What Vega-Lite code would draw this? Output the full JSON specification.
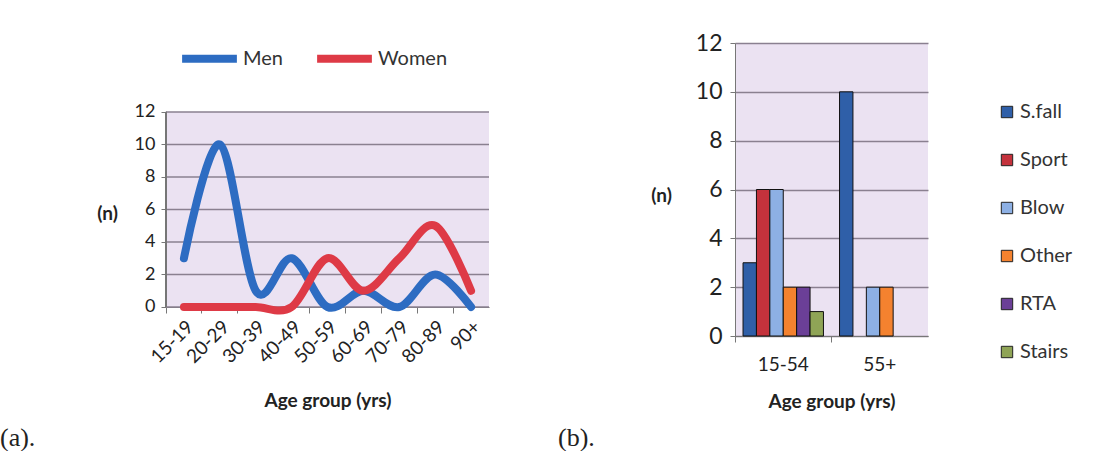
{
  "$schema": "https://vega.github.io/schema/vega-lite/v6.json",
  "background": "white",
  "padding": {"top": 27, "left": 0, "right": 0, "bottom": 0},
  "spacing": 68,
  "resolve": {"scale": {"color": "independent", "y": "independent"}, "legend": {"color": "independent"}},
  "config": {
    "font": "Lato",
    "view": {"fill": "#ebe2f2", "stroke": null},
    "axis": {
      "labelFont": "Lato", "titleFont": "Lato",
      "labelColor": "#222", "titleColor": "#222",
      "domainColor": "#777", "tickColor": "#777",
      "gridColor": "#8a8090", "gridWidth": 1.5
    },
    "title": {"font": "Liberation Serif", "fontSize": 26, "fontWeight": "normal", "color": "#222"}
  },
  "hconcat": [
    {
      "width": 323,
      "height": 293,
      "view": {"fill": null, "stroke": null},
      "title": {"text": "(a).", "orient": "bottom", "anchor": "start", "frame": "group", "dx": -166, "offset": 14},
      "data": {"values": [
        {"age": "15-19", "sex": "Men", "n": 3}, {"age": "20-29", "sex": "Men", "n": 10},
        {"age": "30-39", "sex": "Men", "n": 1}, {"age": "40-49", "sex": "Men", "n": 3},
        {"age": "50-59", "sex": "Men", "n": 0}, {"age": "60-69", "sex": "Men", "n": 1},
        {"age": "70-79", "sex": "Men", "n": 0}, {"age": "80-89", "sex": "Men", "n": 2},
        {"age": "90+", "sex": "Men", "n": 0},
        {"age": "15-19", "sex": "Women", "n": 0}, {"age": "20-29", "sex": "Women", "n": 0},
        {"age": "30-39", "sex": "Women", "n": 0}, {"age": "40-49", "sex": "Women", "n": 0},
        {"age": "50-59", "sex": "Women", "n": 3}, {"age": "60-69", "sex": "Women", "n": 1},
        {"age": "70-79", "sex": "Women", "n": 3}, {"age": "80-89", "sex": "Women", "n": 5},
        {"age": "90+", "sex": "Women", "n": 1}
      ]},
      "layer": [
        {
          "mark": {"type": "rect", "color": "#ebe2f2"},
          "encoding": {
            "x": {"value": 0},
            "x2": {"value": "width"},
            "y": {"datum": 0, "type": "quantitative", "scale": {"domain": [-1.785, 16.246], "nice": false, "zero": false}},
            "y2": {"datum": 12}
          }
        },
        {
          "data": {"values": [{"g": 0}, {"g": 2}, {"g": 4}, {"g": 6}, {"g": 8}, {"g": 10}, {"g": 12}]},
          "mark": {"type": "rule", "color": "#8a8090", "strokeWidth": 1.5},
          "encoding": {
            "y": {"field": "g", "type": "quantitative", "scale": {"domain": [-1.785, 16.246], "nice": false, "zero": false}}
          }
        },
        {
          "mark": {"type": "rule", "color": "#777", "strokeWidth": 1},
          "encoding": {
            "x": {"value": 0},
            "y": {"datum": 0, "type": "quantitative", "scale": {"domain": [-1.785, 16.246], "nice": false, "zero": false}},
            "y2": {"datum": 12}
          }
        },
        {
          "mark": {"type": "line", "interpolate": "cardinal", "strokeWidth": 8, "strokeCap": "round", "strokeJoin": "round"},
          "encoding": {
            "x": {
              "field": "age", "type": "ordinal",
              "sort": ["15-19","20-29","30-39","40-49","50-59","60-69","70-79","80-89","90+"],
              "scale": {"type": "band", "paddingInner": 0, "paddingOuter": 0},
              "axis": {"orient": "bottom", "offset": -29, "ticks": false, "domain": false, "labelAngle": -45, "labelFontSize": 19, "labelPadding": 10,
                       "title": "Age group (yrs)", "titleFontSize": 19, "titleFontWeight": "bold", "titlePadding": 25}
            },
            "y": {
              "field": "n", "type": "quantitative",
              "scale": {"domain": [-1.785, 16.246], "nice": false, "zero": false},
              "axis": {"values": [0,2,4,6,8,10,12], "grid": false, "domain": false, "labelFontSize": 18, "tickSize": 5, "labelPadding": 6,
                       "title": "(n)", "titleAngle": 0, "titleFontSize": 19, "titleFontWeight": "bold",
                       "titleAlign": "center", "titleBaseline": "middle", "titleX": -59, "titleY": 170}
            },
            "color": {
              "field": "sex", "type": "nominal",
              "scale": {"domain": ["Men", "Women"], "range": ["#2d6cc2", "#de3a46"]},
              "legend": {"title": null, "orient": "none", "direction": "horizontal", "legendX": 12, "legendY": -16,
                         "symbolType": "stroke", "symbolSize": 3000, "symbolStrokeWidth": 8,
                         "labelFontSize": 20, "labelColor": "#333", "columnPadding": 18, "labelOffset": 2}
            }
          }
        },
        {
          "mark": {"type": "point", "opacity": 0},
          "encoding": {
            "x": {
              "field": "age", "type": "ordinal",
              "sort": ["15-19","20-29","30-39","40-49","50-59","60-69","70-79","80-89","90+"],
              "axis": {"orient": "bottom", "offset": -29, "labels": false, "title": null, "ticks": true, "tickSize": 6, "bandPosition": 0, "domain": true, "grid": false}
            }
          }
        }
      ],
      "resolve": {"axis": {"x": "independent"}}
    },
    {
      "width": 193,
      "height": 293,
      "title": {"text": "(b).", "orient": "bottom", "anchor": "start", "frame": "group", "dx": -177, "offset": 14},
      "data": {"values": [
        {"age": "15-54", "cause": "S.fall", "n": 3}, {"age": "15-54", "cause": "Sport", "n": 6},
        {"age": "15-54", "cause": "Blow", "n": 6}, {"age": "15-54", "cause": "Other", "n": 2},
        {"age": "15-54", "cause": "RTA", "n": 2}, {"age": "15-54", "cause": "Stairs", "n": 1},
        {"age": "55+", "cause": "S.fall", "n": 10}, {"age": "55+", "cause": "Blow", "n": 2},
        {"age": "55+", "cause": "Other", "n": 2}
      ]},
      "layer": [
        {
          "mark": {"type": "bar", "stroke": "#111", "strokeWidth": 1},
          "encoding": {
            "x": {
              "field": "age", "type": "nominal", "sort": ["15-54", "55+"],
              "scale": {"paddingInner": 0, "paddingOuter": 0},
              "axis": {"orient": "bottom", "ticks": false, "domain": false, "labelAngle": 0, "labelFontSize": 19, "labelPadding": 19,
                       "title": "Age group (yrs)", "titleFontSize": 19, "titleFontWeight": "bold", "titlePadding": 18}
            },
            "xOffset": {
              "field": "cause", "type": "nominal",
              "scale": {"domain": ["S.fall","Sport","Blow","Other","RTA","Stairs"], "paddingInner": 0, "paddingOuter": 0.6}
            },
            "y": {
              "field": "n", "type": "quantitative",
              "scale": {"domain": [0, 12]},
              "axis": {"values": [0,2,4,6,8,10,12], "labelFontSize": 23, "tickSize": 5, "labelPadding": 8,
                       "title": "(n)", "titleAngle": 0, "titleFontSize": 19, "titleFontWeight": "bold",
                       "titleAlign": "center", "titleBaseline": "middle", "titleX": -74, "titleY": 152}
            },
            "color": {
              "field": "cause", "type": "nominal",
              "scale": {"domain": ["S.fall","Sport","Blow","Other","RTA","Stairs"],
                        "range": ["#2f5fa8", "#c4323c", "#8db0e4", "#f4822f", "#6b3f97", "#8fa456"]},
              "legend": {"title": null, "orient": "none", "legendX": 262, "legendY": 59,
                         "symbolType": "square", "symbolSize": 130, "symbolStrokeColor": "#222", "symbolStrokeWidth": 1,
                         "symbolOpacity": 1, "labelFontSize": 20, "labelColor": "#333", "rowPadding": 28, "labelOffset": 3}
            }
          }
        },
        {
          "mark": {"type": "point", "opacity": 0},
          "encoding": {
            "x": {
              "field": "age", "type": "nominal", "sort": ["15-54", "55+"],
              "axis": {"orient": "bottom", "labels": false, "title": null, "ticks": true, "tickSize": 6, "bandPosition": 0, "domain": true, "grid": false}
            }
          }
        }
      ],
      "resolve": {"axis": {"x": "independent"}}
    }
  ]
}
